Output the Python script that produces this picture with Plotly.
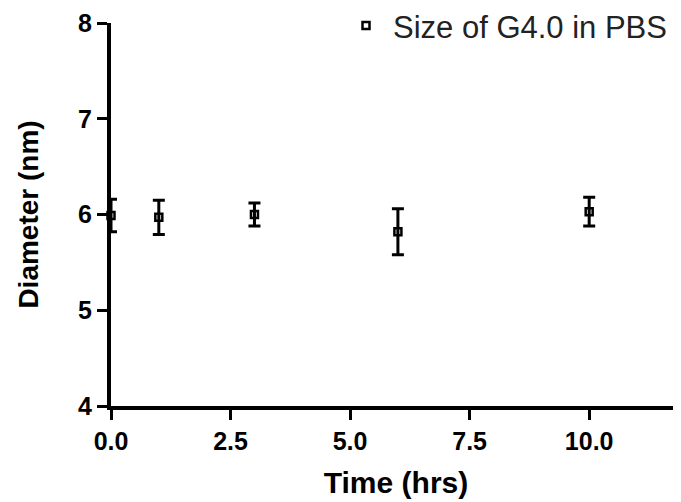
import plotly.graph_objects as go

time_hrs = [0, 1, 3, 6, 10]
diameter_nm = [5.99, 5.97, 6.00, 5.82, 6.03]
diameter_err = [0.17, 0.18, 0.12, 0.24, 0.15]
series_name = "Size of G4.0 in PBS"

x_ticks = [0, 2.5, 5, 7.5, 10]
x_tick_labels = ["0.0", "2.5", "5.0", "7.5", "10.0"]
y_ticks = [4, 5, 6, 7, 8]

fig = go.Figure()
fig.add_trace(go.Scatter(
    x=time_hrs, y=diameter_nm, mode="markers", name=series_name,
    marker=dict(symbol="square-open", size=7, color="black", line=dict(width=2.5, color="black")),
    error_y=dict(type="data", array=diameter_err, visible=True, color="black", thickness=3, width=6),
    cliponaxis=False,
))

font_fam = "Liberation Sans, Arial, sans-serif"
fig.update_layout(
    width=681, height=502,
    margin=dict(l=103, r=8, t=15, b=104, autoexpand=False),
    plot_bgcolor="white", paper_bgcolor="white",
    font=dict(family=font_fam, color="black"),
    showlegend=True,
    legend=dict(x=0.40, y=1.063, xanchor="left", yanchor="top", itemwidth=44,
                font=dict(size=31, color="#222", family=font_fam),
                bgcolor="rgba(0,0,0,0)"),
    xaxis=dict(range=[0, 11.92], tickvals=x_ticks, ticktext=x_tick_labels,
               showline=True, linecolor="black", linewidth=4, ticks="outside",
               ticklen=10, tickwidth=3, tickcolor="black", showgrid=False, zeroline=False,
               ticklabeloverflow="allow",
               tickfont=dict(size=25, family=font_fam, weight="bold"),
               title=dict(text="<b>Time (hrs)</b>", font=dict(size=30), standoff=19)),
    yaxis=dict(range=[4, 8], tickvals=y_ticks,
               showline=True, linecolor="black", linewidth=4, ticks="outside",
               ticklen=10, tickwidth=3, tickcolor="black", showgrid=False, zeroline=False,
               ticklabeloverflow="allow",
               tickfont=dict(size=25, family=font_fam, weight="bold"),
               title=dict(text="<b>Diameter (nm)</b>", font=dict(size=28), standoff=32)),
)
fig.write_html("out.html")
